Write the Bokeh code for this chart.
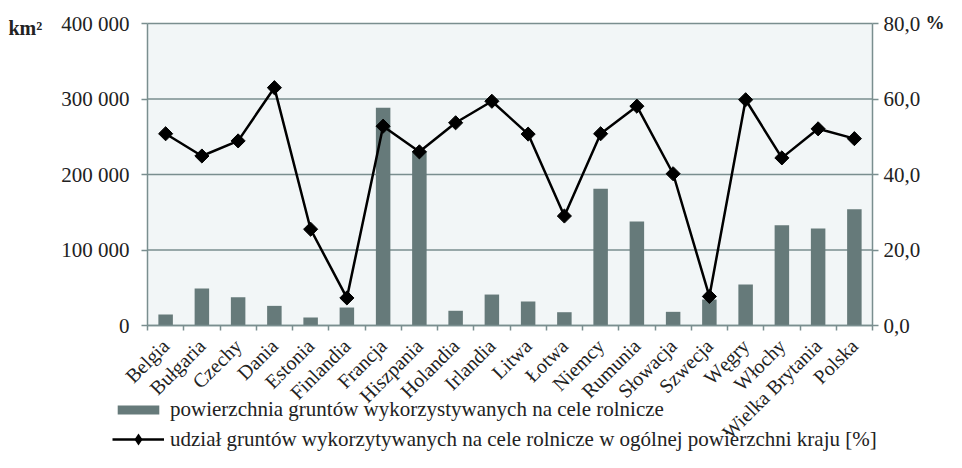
from math import pi
from bokeh.plotting import figure
from bokeh.models import (Range1d, LinearAxis, FixedTicker, Legend, LegendItem, Label, BoxAnnotation)
from bokeh.embed import file_html
from bokeh.resources import INLINE

countries = ["Belgia", "Bułgaria", "Czechy", "Dania", "Estonia", "Finlandia", "Francja",
             "Hiszpania", "Holandia", "Irlandia", "Litwa", "Łotwa", "Niemcy", "Rumunia",
             "Słowacja", "Szwecja", "Węgry", "Włochy", "Wielka Brytania", "Polska"]
area_km2 = [14600, 49000, 37500, 26000, 10600, 23800, 288400, 230900, 19500, 41000,
            31800, 17600, 181000, 137700, 18100, 34400, 54300, 132800, 128500, 154000]
share_pct = [50.8, 44.9, 48.9, 63.0, 25.5, 7.3, 52.8, 46.0, 53.7, 59.4,
             50.7, 29.0, 50.8, 58.1, 40.2, 7.7, 59.8, 44.4, 52.1, 49.5]
left_ticks = [0, 100000, 200000, 300000, 400000]
left_tick_labels = ["0", "100 000", "200 000", "300 000", "400 000"]
right_ticks = [0, 20, 40, 60, 80]
right_tick_labels = ["0,0", "20,0", "40,0", "60,0", "80,0"]
legend_labels = ["powierzchnia gruntów wykorzystywanych na cele rolnicze",
                 "udział gruntów wykorzytywanych na cele rolnicze w ogólnej powierzchni kraju [%]"]

FONT = "Liberation Serif"
GRAY = "#7a8e8f"
BAR = "#667a7a"
TXT = "#222222"
BG = "#f2f6f7"

W, H = 946, 452
# pixel layout of the plotting box
PX_L, PX_R, PX_T, PX_B = 147, 872, 23, 325

n = len(countries)
xs = [i + 0.5 for i in range(n)]
ymax_l = left_ticks[-1]
ymax_r = right_ticks[-1]

ux = n / (PX_R - PX_L)
uy_l = ymax_l / (PX_B - PX_T)
uy_r = ymax_r / (PX_B - PX_T)
x_range = Range1d(-PX_L * ux, n + (W - PX_R) * ux)
y_range = Range1d(-(H - PX_B) * uy_l, ymax_l + PX_T * uy_l)
pct_range = Range1d(-(H - PX_B) * uy_r, ymax_r + PX_T * uy_r)

p = figure(width=W, height=H, output_backend="svg", toolbar_location=None, title=None,
           x_range=x_range, y_range=y_range, min_border=0)
p.extra_y_ranges = {"pct": pct_range}
p.background_fill_color = "white"
p.border_fill_color = "white"
p.outline_line_color = None
p.grid.visible = False

p.add_layout(BoxAnnotation(left=0, right=n, bottom=0, top=ymax_l, fill_color=BG,
                           fill_alpha=1, line_color=None, level="underlay"))
p.segment(x0=[0] * len(left_ticks), x1=[n] * len(left_ticks), y0=left_ticks, y1=left_ticks,
          line_color=GRAY, line_width=1.5)

bars = p.vbar(x=xs, top=area_km2, width=0.4, fill_color=BAR, line_color=None)
line = p.line(x=xs, y=share_pct, y_range_name="pct", line_color="black", line_width=2.5)
marks = p.scatter(x=xs, y=share_pct, y_range_name="pct", marker="square", angle=pi / 4,
                  size=10, fill_color="black", line_color="black")
# diamond used only for the legend swatch (zero size in the plot)
legend_mark = p.scatter(x=xs, y=share_pct, y_range_name="pct", marker="diamond",
                        size=0, fill_color="black", line_color=None)

# bottom axis, drawn at y = 0
xa = p.xaxis[0]
xa.fixed_location = 0
xa.bounds = (0, n)
xa.ticker = FixedTicker(ticks=xs, minor_ticks=list(range(n + 1)))
xa.major_label_overrides = {x: c for x, c in zip(xs, countries)}
xa.major_label_orientation = pi / 4
xa.major_tick_out = 0
xa.major_tick_in = 0
xa.minor_tick_out = 5
xa.minor_tick_in = 0
xa.minor_tick_line_color = GRAY
xa.minor_tick_line_width = 1.5
xa.axis_line_color = GRAY
xa.axis_line_width = 1.5
xa.major_label_standoff = 12
xa.major_label_text_font = FONT
xa.major_label_text_font_size = "20px"
xa.major_label_text_color = TXT

# left axis
ya = p.yaxis[0]
ya.fixed_location = 0
ya.bounds = (0, ymax_l)
ya.ticker = FixedTicker(ticks=left_ticks)
ya.major_label_overrides = {t: l for t, l in zip(left_ticks, left_tick_labels)}
ya.major_tick_out = 6
ya.major_tick_in = 0
ya.minor_tick_out = 0
ya.minor_tick_in = 0
ya.major_tick_line_color = GRAY
ya.major_tick_line_width = 1.5
ya.axis_line_color = GRAY
ya.axis_line_width = 1.5
ya.major_label_standoff = 12
ya.major_label_text_font = FONT
ya.major_label_text_font_size = "21px"
ya.major_label_text_color = TXT

# right axis
ra = LinearAxis(y_range_name="pct", ticker=FixedTicker(ticks=right_ticks),
                fixed_location=n, bounds=(0, ymax_r))
ra.major_label_overrides = {t: l for t, l in zip(right_ticks, right_tick_labels)}
ra.major_tick_out = 6
ra.major_tick_in = 0
ra.minor_tick_out = 0
ra.minor_tick_in = 0
ra.major_tick_line_color = GRAY
ra.major_tick_line_width = 1.5
ra.axis_line_color = GRAY
ra.axis_line_width = 1.5
ra.major_label_standoff = 5
ra.major_label_text_font = FONT
ra.major_label_text_font_size = "21px"
ra.major_label_text_color = TXT
p.add_layout(ra, "right")


def dx(px):
    return (px - PX_L) * ux


def dy(py):
    return (PX_B - py) * uy_l


# unit labels
p.add_layout(Label(x=dx(8), y=dy(27), text="km²",
                   text_font=FONT, text_font_size="20px", text_font_style="bold",
                   text_color=TXT, text_baseline="middle", text_align="left"))
p.add_layout(Label(x=dx(925), y=dy(22), text="%",
                   text_font=FONT, text_font_size="19px", text_font_style="bold",
                   text_color=TXT, text_baseline="middle", text_align="left"))

common = dict(orientation="vertical", glyph_width=52, label_standoff=6,
              padding=0, margin=0, background_fill_alpha=0, border_line_color=None,
              label_text_font=FONT, label_text_font_size="21px", label_text_color=TXT)
legend_bar = Legend(items=[LegendItem(label=legend_labels[0], renderers=[bars])],
                    location=(112, 30), glyph_height=11, **common)
legend_line = Legend(items=[LegendItem(label=legend_labels[1], renderers=[line, legend_mark])],
                     location=(112, -2), glyph_height=30, **common)
p.add_layout(legend_bar)
p.add_layout(legend_line)

open("out.html", "w").write(file_html(p, INLINE))
